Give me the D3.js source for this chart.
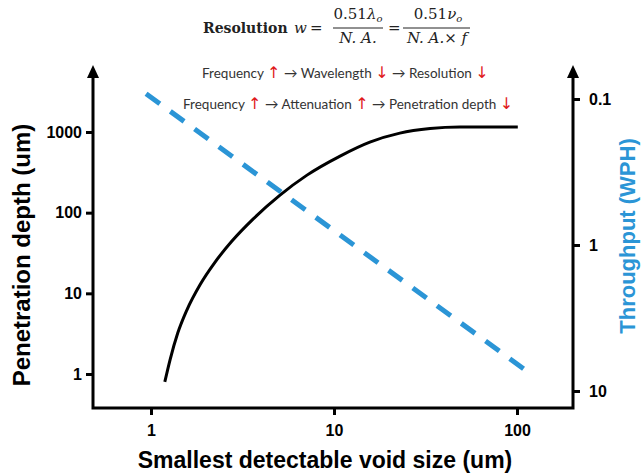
<!DOCTYPE html>
<html>
<head>
<meta charset="utf-8">
<script src="https://cdn.jsdelivr.net/npm/d3@7"></script>
<style>
  body { margin: 0; background: #fff; }
  svg { display: block; }
  .tick text { font-family: "Liberation Sans", Arial, sans-serif; font-weight: bold; font-size: 16px; fill: #000; }
  .tick line { stroke: #000; stroke-width: 3; }
  .axTitle { font-family: "Liberation Sans", Arial, sans-serif; font-weight: bold; font-size: 23px; }
  .note { font-family: Lato, "Open Sans", sans-serif; font-size: 13.5px; fill: #333; }
  .up, .down { fill: #e0191b; font-family: "DejaVu Sans", sans-serif; font-size: 16px; }
  .math { font-family: "DejaVu Serif", serif; font-size: 15px; fill: #222; }
</style>
</head>
<body>
<script>
// chart size
var w = 642, h = 474;

// x axis: smallest detectable void size (um)
var xTicks = [1, 10, 100];
// left axis: penetration depth (um)
var depthTicks = [1, 10, 100, 1000];
// right axis: throughput (WPH), reversed
var wphTicks = [0.1, 1, 10];

// penetration depth curve (black)
var depthX = [1.19, 1.27, 1.40, 1.57, 1.85, 2.24, 2.77, 3.61, 5.07, 7.12, 10.8, 15.7, 22.9, 33.5, 48.8, 101];
var depthY = [0.8, 1.49, 3.22, 6.21, 12.7, 24.4, 44.5, 83.3, 165, 292, 503, 749, 969, 1102, 1150, 1150];

// throughput line (blue dashed)
var wphX = [0.94, 119];
var wphY = [0.092, 7.65];

window.onload = function(){

    var svg = d3.select("body")
        .append("svg")
        .attr("width", w)
        .attr("height", h);

    //scales
    var x = d3.scaleLog().domain([1, 100]).range([151, 517]);
    var yL = d3.scaleLog().domain([1, 1000]).range([374, 132]);
    var yR = d3.scaleLog().domain([0.1, 10]).range([99, 391]);

    var left = 93, right = 573, bottom = 408, top = 65;

    //axes (ticks + labels only, frame drawn below)
    var xAxis = svg.append("g")
        .attr("transform", "translate(0," + bottom + ")")
        .call(d3.axisBottom(x).tickValues(xTicks).tickFormat(d3.format("d")).tickSize(7).tickPadding(10));
    xAxis.select(".domain").remove();

    var lAxis = svg.append("g")
        .attr("transform", "translate(" + left + ",0)")
        .call(d3.axisLeft(yL).tickValues(depthTicks).tickFormat(d3.format("d")).tickSize(7).tickPadding(4));
    lAxis.select(".domain").remove();

    var rAxis = svg.append("g")
        .attr("transform", "translate(" + right + ",0)")
        .call(d3.axisRight(yR).tickValues(wphTicks).tickFormat(function(d){ return d < 1 ? "0.1" : d3.format("d")(d); }).tickSize(7).tickPadding(9));
    rAxis.select(".domain").remove();

    //frame with arrows
    svg.append("path")
        .attr("d", "M" + left + "," + (top + 8) + "V" + bottom + "H" + right + "V" + (top + 8))
        .attr("fill", "none")
        .attr("stroke", "#000")
        .attr("stroke-width", 3);

    [left, right].forEach(function(ax){
        svg.append("path")
            .attr("d", "M" + ax + "," + top + "L" + (ax - 6) + "," + (top + 13) + "L" + (ax + 6) + "," + (top + 13) + "Z")
            .attr("fill", "#000");
    });

    //penetration depth curve
    var depthData = depthX.map(function(d, i){ return [d, depthY[i]]; });
    var line = d3.line()
        .x(function(d){ return x(d[0]); })
        .y(function(d){ return yL(d[1]); })
        .curve(d3.curveMonotoneX);

    svg.append("path")
        .datum(depthData)
        .attr("d", line)
        .attr("fill", "none")
        .attr("stroke", "#000")
        .attr("stroke-width", 3);

    //throughput dashed line
    var wphData = wphX.map(function(d, i){ return [d, wphY[i]]; });
    var line2 = d3.line()
        .x(function(d){ return x(d[0]); })
        .y(function(d){ return yR(d[1]); });

    svg.append("path")
        .datum(wphData)
        .attr("d", line2)
        .attr("fill", "none")
        .attr("stroke", "#2b95d6")
        .attr("stroke-width", 5)
        .attr("stroke-dasharray", "17,13");

    //axis titles
    svg.append("text")
        .attr("class", "axTitle")
        .attr("text-anchor", "middle")
        .attr("x", 325)
        .attr("y", 468)
        .text("Smallest detectable void size (um)");

    svg.append("text")
        .attr("class", "axTitle")
        .attr("text-anchor", "middle")
        .style("font-size", "24px")
        .attr("transform", "translate(30,255) rotate(-90)")
        .text("Penetration depth (um)");

    svg.append("text")
        .attr("class", "axTitle")
        .attr("text-anchor", "middle")
        .attr("fill", "#2b95d6")
        .style("font-size", "22px")
        .attr("transform", "translate(635,236) rotate(-90)")
        .text("Throughput (WPH)");

    //notes
    var note1 = svg.append("text").attr("class", "note").attr("x", 202).attr("y", 78);
    note1.append("tspan").text("Frequency ");
    note1.append("tspan").attr("class", "up").text("\u2191");
    note1.append("tspan").text("  \u2192 Wavelength ");
    note1.append("tspan").attr("class", "down").text("\u2193");
    note1.append("tspan").text(" \u2192 Resolution ");
    note1.append("tspan").attr("class", "down").text("\u2193");

    var note2 = svg.append("text").attr("class", "note").attr("x", 183).attr("y", 109);
    note2.append("tspan").text("Frequency ");
    note2.append("tspan").attr("class", "up").text("\u2191");
    note2.append("tspan").text("  \u2192 Attenuation ");
    note2.append("tspan").attr("class", "up").text("\u2191");
    note2.append("tspan").text(" \u2192 Penetration depth ");
    note2.append("tspan").attr("class", "down").text("\u2193");

    //resolution formula
    var f = svg.append("g").attr("class", "math");
    f.append("text").attr("x", 203).attr("y", 33).attr("font-weight", "bold").style("font-size", "14px").text("Resolution");
    f.append("text").attr("x", 294).attr("y", 33).attr("font-style", "italic").text("w");
    f.append("text").attr("x", 310).attr("y", 33).text("=");
    f.append("text").attr("x", 358).attr("y", 19).attr("text-anchor", "middle").html("0.51<tspan font-style='italic'>\u03bb</tspan><tspan font-style='italic' font-size='10' dy='3'>o</tspan>");
    f.append("line").attr("x1", 333).attr("x2", 383).attr("y1", 28).attr("y2", 28).attr("stroke", "#222").attr("stroke-width", 1);
    f.append("text").attr("x", 358).attr("y", 43).attr("text-anchor", "middle").attr("font-style", "italic").text("N. A.");
    f.append("text").attr("x", 388).attr("y", 33).text("=");
    f.append("text").attr("x", 438).attr("y", 19).attr("text-anchor", "middle").html("0.51<tspan font-style='italic'>\u03bd</tspan><tspan font-style='italic' font-size='10' dy='3'>o</tspan>");
    f.append("line").attr("x1", 403).attr("x2", 470).attr("y1", 28).attr("y2", 28).attr("stroke", "#222").attr("stroke-width", 1);
    f.append("text").attr("x", 437).attr("y", 43).attr("text-anchor", "middle").html("<tspan font-style='italic'>N. A.</tspan>\u00d7 <tspan font-style='italic'>f</tspan>");
};
</script>
</body>
</html>
